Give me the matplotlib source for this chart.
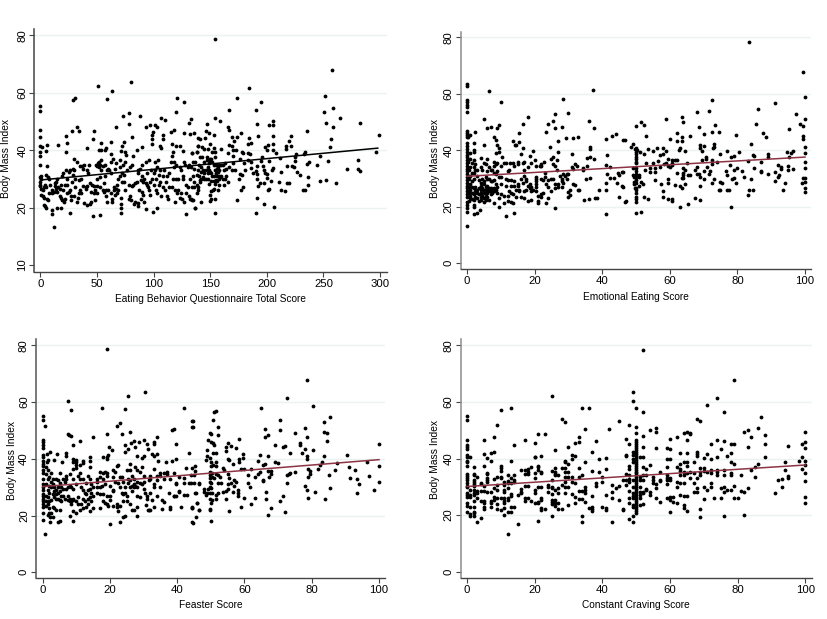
import matplotlib
matplotlib.use("Agg")
import matplotlib.pyplot as plt

plt.rcParams['font.family'] = ['Liberation Sans', 'DejaVu Sans']

# values: (score, body mass index)
total_points = [
    (0,55.4),(0,53.8),(0,47),(0,44.7),(0,41.5),(1.8,41),(6,41.7),(4.7,39.6),(0,39.2),(0,37.8),(0,34.8),(6,34.5),
    (16,41.8),(23,45),(24,42.4),(22.6,39.2),(28,46.5),(28.5,57.5),(30.6,58),(32,47.9),(34.4,46.6),(41.5,40.6),
    (47,46.8),(46.8,43.8),(50.6,62.5),(58.5,57.8),(63.2,60.7),(79.7,63.6),(66.8,48.1),(62,43),(54,42.6),(51.5,40.1),
    (53.5,39.9),(57,40),(58,40.9),(73.2,51.9),(78.2,53),(78.5,49),(81,44.5),(74,42.8),(72,41.3),(71.5,39.7),
    (74.7,39.4),(75.6,38.2),(81.5,37.8),(62,38.6),(85,40.2),(88,52),(90,41),(93,48),(96.5,48.7),(101,48.6),
    (103,48.2),(99.4,46.4),(99,45.4),(99,43.8),(98.5,42),(107,51.2),(110,50.5),(108,45.2),(108.5,43.8),(115.6,46.4),
    (118,47),(119.7,53.4),(120.6,58),(127,56.6),(131,49.4),(133.5,50.8),(127,45.8),(132.6,45.7),(136,46.1),(116,42),
    (119.7,41.3),(123.5,41.4),(125.6,39.7),(105.6,41.3),(107,40.7),(117.4,39.5),(116,38),(139.4,44.2),(139.4,41.6),
    (138,39.3),(134.4,39),(12.4,13.4),(10,19),(10.6,17.8),(14.7,20),(18.5,19.8),(26,18),(46.8,17),(53,17.5),
    (71,19.8),(71,18),(71,21.2),(93,19.5),(99.7,18.4),(103,20),(128.5,17.7),(136.5,19.9),(86.5,20.6),(86.5,21.5),
    (83.2,21.8),(92,22),
    (154.7,78.7),(257.4,67.9),(184.4,61.7),(251.8,58.9),(173.8,58),(194.7,56.9),(258.8,54.8),(190.3,54),(167,53.9),
    (250.3,53.2),(264.4,51.1),(282.4,49.6),(252.4,49.5),(154,51.2),(158.8,50.3),(147.4,49.1),(191.8,49.1),(205.3,50.3),
    (205.3,48.8),(201.8,48.8),(258.2,47.9),(165.9,47.9),(167,46.9),(235.3,46.6),(177.6,45.9),(146.5,46.8),(149,45.9),
    (153,45.4),(192.4,45),(205.3,45),(221,45),(298.8,45.2),(169,44.5),(174,44.5),(184.4,44.3),(141,43.8),(145.6,44.3),
    (219.7,43.3),(257,44),(171,43.3),(183.5,42.3),(186,42.6),(205.3,42.3),(150,42.2),(167,41.8),(169,41.4),(200.9,41.7),
    (198.5,41),(221,41.6),(217.4,41.3),(217,40.3),(256,41),(139,41.6),(143,41),(145,40.3),(148.4,40.5),(153,40.6),
    (160,40.5),(170.6,39.9),(173,40.1),(200.6,40),(205.3,39.9),(178.5,39.5),(183.5,39),(208,39),(234,39.2),(233,38.5),
    (226,38.7),(296.8,39.2),(247,38.1),(138,39.3),(134,39),(151.5,39.3),(154.4,39.5),(165.4,39),(170.6,38),(179,39),
    (185,38.5),(195.6,37.5),(211.8,37.2),(225,37.6),(176.5,36.8),(183.5,36.6),(186,35.7),(195,36.1),(202,36.1),
    (254,36.2),(281,36.4),(237,36),(235.9,35.1),(224.7,36.1),(170.6,35.5),(179.5,35.5),(161,35),(167,34.1),(169.6,33.2),
    (172,33),(181,33.2),(186,33.7),(191.8,34.5),(197,34.5),(205.3,33.9),(205,33.2),(217.6,34.5),(222,34.5),(224,34.2),
    (244,34.9),(271,33.6),(280.6,33.4),(282.4,32.9),(213,32.4),(227,32.5),(229,31.4),(188,31.9),(190.6,32.9),(191,31.8),
    (197.6,33.2),(198.8,32.2),(200.6,31.8),(176.5,31.8),(178,31.2),(175.6,30.1),(164,31),(163.5,30),(191,30),(200.6,30.2),
    (204,29.2),(236.2,30.6),(211,29),(252.6,29.7),(246.8,29.2),(261,28.5),(236.6,27.9),(218,28.4),(220,28.4),(197.5,28.4),
    (193.6,28.4),(192,27.4),(166,28.9),(161.8,27.9),(157.6,30),(156,29.3),(153.5,29.2),(150.6,29.2),(140.6,28.9),
    (148.8,28.2),(154.7,28.3),(157.6,27.7),(136,27.3),(139,27.3),(139,26),(138.2,25.2),(153.5,26.5),(152.4,26.2),(157,26.2),
    (179.4,27),(177.4,26.2),(200.9,26.2),(202.4,26.4),(213,26),(216,25.9),(232.4,26),(233.5,26.2),(150,24.4),(150.6,25.8),
    (154.4,23),(173.5,22.7),(191,23.3),(150,22.3),(150.6,22.9),(141.8,21.8),(133,23),(134.7,22.6),(197.6,21.2),(136.8,19.9),
    (206,20.1),(154.4,18),(190.3,18),
    (1,31),(1,30),(0,30.5),(0,29),(0,28),(0,27.5),(1,26.3),(2,26),(3,27),(4,28),(5,27),(5,31.5),(7,30.5),(8,30),(2,24),
    (3,23.5),(1,24.5),(3,21),(4,20.5),(5,20),(6,23),(7,22.7),(8,25),(9,28),(10,26),(10,25),(12,25.5),(13,28.5),(13,27.5),
    (14,29),(15,30),(14,26.5),(15,25.5),(16,27),(17,26.3),(17,24),(18,23.5),(19,22.5),(18,28),(19,31),(20,32),(21,22),
    (22,23),(20,26),(22,28),(23,33),(24,30),(24,28),(25,32.5),(26,33),(24,25),(25,25.5),(26,26),(27,24),(27,22.5),(28,29),
    (29,31.5),(29,33.5),(30,33),(30,37),(32,36),(31,30),(31,27),(30,24),(32,22),(33,23.5),(34,25),(35,26),(34,29.5),
    (35,34.5),(36,30),(36,25),(37,34.5),(38,33.5),(39,35),(38,27.5),(40,27),(40,26.5),(41,27.5),(41,33),(42,32),(43,35),
    (44,28.5),(45,25.5),(45,22),(44,21.3),(41,21),(39,21.5),(46,28),(47,27.5),(47,25),(48,26),(48,22.5),(49,35),(50,34.5),
    (50,27.5),(50,30),(50,25),(51,35.5),(52,36),(52,34),(53,35),(53,27),(53,30.5),(54,36.5),(54,33),(55,26.2),(55,34.5),
    (56,25.5),(56,28.5),(57,35),(57,31),(58,26),(58,24),(59,33),(59,21.8),(60,26),(60,33.5),(61,33),(62,36),(62,32),(62,25),
    (63,23),(63,22),(64,37),(65,27),(65,26),(66,24.5),(66,33.5),(67,26.5),(67,35.5),(68,25),(68,28),(69,30),(69,26),
    (70,36.5),(70,31),(70,34),(71,23.5),(72,32),(72,29),(73,35),(74,31.5),(74,29),(75,26),(75,36),(77,33),(78,28),(78,23),
    (79,34),(79,24),(80,22.5),(81,27.5),(81,35),(82,28),(83,21.3),(84,28.5),(85,29),(86,32),(86,33),(87,26),(88,33.5),
    (89,29.5),(89,23),(90,35),(90,31),(90,25.5),(91,29),(91,24.5),(92,30),(93,36),(93,28.5),(94,28),(94,32),(95,27),
    (96,36.5),(96,26),(97,24.5),(97,29),(98,33),(99,30),(100,32),(100,28),(101,33),(101,36),(102,30),(102,26),(103,34),
    (103,25),(104,36.5),(105,31.5),(105,28),(106,29),(106,33),(107,24),(108,27),(108,31),(109,33),(110,26),(111,29),
    (112,31),(112,24),(113,23),(114,32),(114,27),(115,36),(116,27),(117,30),(118,36),(118,34),(119,26),(119,22),(120,35),
    (120,30),(121,25),(122,30),(122,26),(123,34),(123,23.5),(124,25),(124,33),(125,23),(126,31),(126,30),(127,36),
    (127,21.8),(128,35),(129,28),(129,25),(130,34),(130,27),(131,35),(131,24),(132,30),(132,23),(133,34),(134,22.5),
    (134,27),(135,36),(135,31),(136,33.5),(136,29),(137,36),(138,31.5),(138,28),(139,33),(140,35),(140,31),(141,29.5),
    (141,37.5),(142,34),(142,32.5),(142,30),(143,37.5),(144,30.5),(144,33),(145,36),(145,32),(145,30),(146,33),(146,30),
    (147,36.5),(147,37.5),(148,34),(148,32),(148,30),(149,35.5),(149,33),(150,36.5),(150,32.5),(150,37),(151,32),(151,37),
    (152,36),(152,31),(153,35),(153,31),(154,33),(154,37.5),(155,35),(155,32),(155,29.5),(156,33.5),(156,31),(157,34),
    (157,32.5),(158,35),(158,33),(158,31),(159,30.5),(160,35),(160,31),(161,30),(162,33),(163,35.5),(164,33.5),
]

emotional_points = [
    (0,63.5),(0,62.6),(0,57.8),(0,57),(0,56),(0,55.2),(0,53.6),(0,46.8),(0,46.3),(0,45.4),(0,44.8),(0,42.5),(0,41.5),
    (0,40.5),(0,39.5),(0,38.5),(0,37.5),(0,36.5),(0,35.5),(0,34.5),(0,33.5),(0,32.5),(0,31.5),(0,30.5),(0,29.5),(0,28.5),
    (0,27.5),(0,26.5),(0,25.5),(0,24.5),(0,23.5),(0,21.8),(0,20.6),(0,19.5),(0,18),(0,13.3),
    (6.6,60.9),(10,57.2),(5.1,51.2),(6,48),(7,48.1),(9,48),(9.6,48.8),(2.5,46.4),(0.8,45.4),(0.4,44.6),(8,44.6),(8.5,43.7),
    (9,41.9),(5,41.8),(2,42.7),(2.2,40.1),(2,39.5),(1,39.2),(9.5,40.7),(9.5,39.5),(8.6,39),(10.5,37.6),(13.6,43.4),
    (14.2,41.8),(14.6,41.8),(15.4,42.8),(15.5,46.3),(16.5,49.2),(18,51.7),(16.5,40.9),(16,38.7),(18.5,38),(19.5,39.6),
    (20,36.6),(23.5,46.6),(24,49.4),(25.5,50.5),(26,52.7),(26,47.8),(28,48.4),(28.4,58),(30,53.1),(29.4,44.2),(31.4,44.4),
    (32.8,44.8),(27,43.4),(24.5,41.2),(27,39.3),(31,38.8),(25.5,37.6),(25,36.8),(26.5,36.6),(22.8,36),(22,35.2),(21.5,34.5),
    (20.5,34.5),(19,35.6),(17,36),(15.2,36),(13.7,35.4),(12.7,35.6),(11.5,35.6),(36,50.4),(37.4,61.5),(37.5,47.8),(36.5,41.3),
    (36.4,40.6),(35.6,37.2),(36.3,37.5),(37.5,36.8),(35.5,34.6),(34.4,33.6),(41,44.1),(43,45.2),(44.2,45.7),(46.3,43.7),
    (41.5,38.5),(41,34.7),(42.4,34.1),(41.5,31.6),(42.4,30.3),(43.5,30.1),(44.6,31.9),(45,31.3),(45.8,32.2),(44.5,28.3),
    (45.8,27.3),(41,28.6),(41,26),(39,26),(38,23),(38.5,23),(45,23.4),(46.6,21.8),(41,17.6),(34.7,22.3),(36,22.6),(35.3,29.7),
    (36.5,30.3),(34.4,33),(32.8,26),(32,27.7),(30.6,26),(30,25.4),(30.4,24.2),(30,23.6),(26,19.7),(14,17.9),(11.5,16.9),
    (3.8,19),(2,17.5),(3,17.7),
    (83.5,78.5),(99.5,67.6),(91,56.6),(100,58.8),(72.5,57.8),(68,53.7),(71.5,53.8),(86,54.6),(97.4,53),(100,51),(59,51.1),
    (63.5,51.7),(64,50.1),(50,48.6),(51.5,50),(52.5,48.9),(46.6,43.7),(68.5,48.4),(73.5,48.9),(85.5,49.3),(95.4,47.7),
    (98.4,49.4),(99.4,48.6),(62,46.3),(70,45.9),(72.5,46.5),(74.6,46.4),(79.5,45.5),(87.5,46),(88.5,44.8),(53,45),(60,44.1),
    (62,43.2),(63.5,44.8),(63.5,43.3),(66,45),(99.4,45.1),(99.4,43.9),(69,41.8),(70,41.5),(73,42.2),(73,41),(84,42.2),
    (100,41.3),(49,42.2),(48.5,41.3),(49.8,40.6),(50.2,40.1),(51.2,39.5),(52.5,38.8),(53.6,40.6),(55,39.9),(56.2,40.8),
    (58,40.9),(57,38.3),(58,38.7),(59,39.6),(63,40.8),(62.6,40.1),(64.5,39.9),(69,40.9),(69.5,39.8),(72.8,40.7),(77,39.8),
    (75,38.7),(79,38.1),(78,37.8),(80.5,39.4),(84.5,38.5),(85,38.1),(89,38.6),(89,37.6),(94.6,39.3),(96,38.9),(96.5,39.9),
    (95.4,37.6),(100,39),(100,36),(100,33.6),(70.6,37.5),(70.6,36.9),(69.5,36.5),(72.4,36.5),(72.5,35.2),(74,35.7),(77.8,34.9),
    (83,36.1),(87,35.8),(92,34.7),(93,34.1),(93,33.4),(95,34.5),(95,33),(96.5,33.4),(85,33.8),(87,32.7),(87,32.2),(89,31.7),
    (91,32.3),(92.4,31.3),(92,30.7),(80,33.6),(79,33),(81.4,32.7),(76.5,32.6),(77,31.3),(79,30.1),(78.5,30),(82,30.4),(84,29.7),
    (79.5,28.3),(75,28.9),(75.5,28.3),(91,29),(94,28.3),(99,28.3),(99.5,30.1),(100,30.2),(100,28.9),(100,26.6),(100,25.3),
    (93.5,26),(83.5,25.8),(84.5,25.8),(83,24.2),(77,26.1),(77.5,26.1),(74.6,26.1),(75,25.8),(69,27.2),(67.6,23.2),(69,22.4),
    (65.5,21.1),(63,20),(78,19.8),(60.6,22.9),(60.6,22),(59.5,22.8),(58,25.6),(58,23.5),(57.5,28),(59.6,30),(59.6,28.5),
    (61.4,27.7),(63,27.2),(63.5,26.7),(64.5,28.1),(65.5,31.1),(66,31.3),(64,33.6),(64.5,33),(64,31.9),(64,31.3),(63.6,30.1),
    (64,30.1),(62,31.9),(65,35.6),(68,34.2),(67.6,32.9),(68,31.5),(68.5,31.5),(69,30.7),(70,32.8),(70,30),(71,34.2),(72,32.8),
    (71.6,31.6),(72.5,28.3),(73,29.9),
    (50,40.7),(50,39.5),(50,38.6),(50,37.8),(50,36.8),(50,36),(50,35.4),(50,33.6),(50,32.8),(50,31.6),(50,30.7),(50,29.5),
    (50,28.3),(50,26.5),(50,26),(50,24.8),(50,23.6),(50,22.8),(50,21.8),(50,17.9),(51.5,18.3),(47,22),(52.5,23.6),(53.6,22.6),
    (49,33.6),(49,31.3),(49.4,30.7),(51,31.3),(51,30.7),(49.4,28.9),(49.4,28.1),(49.6,26.5),(51.5,28.7),(52,28),(51,27.5),
    (46.2,32.2),(46.2,27.1),(52.6,33),(53,35.4),(54,33.6),(54,32.3),(55,35.6),(55.6,33.7),(55.6,32.3),(56.5,36.2),(57,34.2),
    (55.5,29.4),(58.4,35.2),(59,35.6),(59.6,36.8),(60.6,36.6),(61.6,36.6),(62,36.6),(59.6,34.6),(60,34.2),(60.6,34.7),(60.6,35.6),
    (0.3,36),(0.5,33),(0.5,30),(0.5,27),(0.5,25),(0.7,22),(1,37),(1,34),(1,31),(1,28),(1,26),(1,24),(1,23),(1.5,35.5),(1.5,32),
    (1.5,29),(1.5,27),(1.5,25),(1.5,22.8),(2,36.5),(2,34),(2,32),(2,30),(2,26.5),(2,24.5),(2,22.5),(2,20.5),(2,20),(2.5,35),
    (2.5,33),(2.5,27),(2.5,25.5),(2.5,23.5),(3,33),(3,31),(3,26),(3,25),(3,23),(3.5,29.5),(3.5,26.5),(3.5,24.5),(3.5,22),
    (4,37.2),(4,34),(4,28.5),(4,27.5),(4,26),(4,25),(4,23.5),(4,22.5),(4.5,33),(4.5,30),(4.5,26.5),(4.5,24),(5,35.5),(5,29),
    (5,28),(5,26),(5,25),(5,23),(5,21.7),(5.5,35),(5.5,30.5),(5.5,27),(5.5,25.5),(5.5,24),(5.5,22.5),(6,37),(6,32.5),(6,29.8),
    (6,27.5),(6,26),(6,25),(6,23.5),(6.5,34),(6.5,30),(6.5,26.5),(6.5,25.5),(6.5,22.5),(7,33),(7,29),(7,26.5),(7,25.5),(7,24.5),
    (7.5,33),(7.5,29),(7.5,26),(7.5,25),(8,36),(8,34.5),(8,32),(8,29.5),(8,26.5),(8,25.5),(8,21.5),(8.5,35),(8.5,31.5),(8.5,28),
    (8.5,26),(9,35.5),(9,32.5),(9,27),(9,25),(9.5,30.5),(9.5,23),(9.5,19.8),(10,34.3),(10,30.5),(10,28),(10,24.5),(11,35.6),
    (11,24),(11,21.5),(11.5,30),(11.5,27.5),(12,32.5),(12,29.5),(12,24),(12,22),(12.5,25.5),(12.5,33),(13,29.5),(13,27.5),(13,25),
    (13,21.8),(13.5,24.5),(13.5,21.3),(14,34.5),(14,29),(14,27.5),(14.5,23.5),(14.5,26),(15,27.5),(15,28),(15,35),(15.5,26),
    (15.5,25.5),(16,30),(16,23.5),(16.5,35.5),(16.5,28.5),(17,33),(17,31),(17,25.5),(17,23),(17.5,30),(17.5,29),(17.5,26),(18,34),
    (18,27.5),(18,22),(18.5,26.5),(18.5,28),(19,27),(19,25.5),(19,22.5),(19.5,26),(20.5,30.5),(20.5,30),(20.5,29),(20.5,28),
    (20.5,27),(20.5,25.5),(21,24),(21,22),(21,21.5),(22,34.5),(22,30),(22,24.5),(22,23.3),(22.5,29.5),(22.5,25),(23,32),(23,30.5),
    (23.5,28),(23.5,21.5),(24,29.5),(24,27),(24,23),(25,30),(25,25.5),(25.5,35),(25.5,30),(26,34.5),(26,28),(26,26.5),(26.5,33),
    (27,28),(27,27),(27.5,31),(28,30),(28,29),(28,27),(28.5,31.5),(28.5,28.5),(29,31),(29.5,30),(29.5,31.5),(30,31.5),(31,34),
    (31.5,33.5),(32,35),(32.5,34.5),(31.5,28),(33,26),
]

feaster_points = [
    (19,78.6),(7.6,60.5),(8.5,57.2),(17.5,57.8),(24.6,57.7),(25.5,62.3),(30.5,63.4),(0,55.2),(0,53.6),(0.7,51.7),(22,51.7),
    (23,52.7),(7.6,48.7),(7.8,48.3),(8.5,48),(19,48.6),(23.6,48.6),(26,49.4),(15,47.7),(11,46.4),(0,46.6),(0,46),(0,44.7),(0,43.7),
    (9,44.9),(19.6,44.3),(20.6,43),(24.6,44.9),(25.5,43.6),(24.6,42.5),(26.4,45.5),(27,46.4),(27.5,44),(28.5,45.9),(30,46.5),
    (31,45.2),(31.4,43.6),(33,45.8),(33,45.2),(34,47.6),(32.5,41.7),(33,41),(34,41.7),(28,41.1),(30,41),(29.6,40.3),(2.2,42.5),
    (1.3,41.7),(0,41.2),(0,40.6),(0,39.2),(0,37.5),(0,34.9),(4.2,41.7),(7,42.2),(7,41),(1.7,39.6),(1.2,38.9),(3.5,39.6),(5.6,39),
    (9,39.8),(10,39.6),(9,39),(10,39),(14,40.7),(14,39.2),(12,39.3),(11,37.8),(10,37.8),(10,36.6),(9,36.3),(18,40.8),(19.2,40.8),
    (19.5,41.3),(19,39.8),(22.5,37.8),(26,38),(34.4,39.3),(36.8,39),(38.5,39.3),(39.5,40.1),(39.5,45.1),(38.5,50.2),(39,50.4),
    (42,57.9),(44.5,53.3),(44.5,51.1),(43.5,42.2),(42.5,36.9),(44.5,36.6),(45.4,37.6),(45.4,35.8),(40.5,33.7),(42,33.1),(44,34.4),
    (45,34.4),(39.5,31.6),(42,31.4),(43.5,31.4),(45,31.4),(46.4,31),(40.5,28.4),(42,27.2),(43,27.2),(45.4,28),(37.5,27.8),(39.5,27),
    (39,26.9),(46,24.3),(46.4,22),(44.5,22.8),(44.5,22.5),(41,23.1),(38,23.1),(38,22.2),(35.5,25.5),(36,24.9),(35.5,22.3),(33,23.1),
    (31.4,22),(32,22),(30.6,23.7),(44.5,17.6),(0.6,13.4),(20,17),(0,18.4),(2.2,17.6),(2.2,19.6),(2.6,20.8),(1.7,20.2),(3.2,19.6),
    (4.6,17.7),(5.1,18),(9,18),(8,19.7),(23,17.8),(24,19.4),(24.6,19.8),(28,19.8),
    (78.5,67.7),(72.6,61.4),(80.5,58.7),(65,57.9),(51.6,56.9),(51,56.4),(44.7,53.3),(50.6,53.8),(44.7,51.1),(52,51.1),(70.6,53.7),
    (85.5,54.6),(83.5,53.1),(66,50.5),(70.5,50),(78,50.9),(83.6,49.6),(84.6,49.2),(75,49),(49.6,49.2),(50,48.6),(52,48.5),(67,48.5),
    (66,47.6),(78.5,47.7),(84.6,46.4),(58.5,47),(49.1,46.6),(50,46),(50.6,45.5),(51,45),(55,45.7),(76.5,45.5),(76.5,44.9),(69,44.9),
    (71.6,44.3),(72,44.4),(56,44.4),(57.5,43.9),(54.6,44.3),(54.6,42.6),(78,43.6),(80.5,43.2),(100,45.1),(49,43.1),(50.6,42.2),
    (51.6,41.9),(73.6,42.2),(77,41.9),(64.6,41.3),(67,40.9),(78.5,41),(78.5,39.8),(83.5,40.9),(90.5,41.3),(59.5,41.7),(59.5,40.3),
    (58.5,39.8),(58.5,38.8),(55,39.8),(55.5,39.6),(56.5,38),(49,41),(48.6,39.6),(49.6,40.4),(50,38.8),(50.6,37.8),(51.6,38.8),
    (50,37.5),(51.6,37.5),(64,39.1),(65.6,37.8),(66,38),(69,38.8),(70,38.4),(83,38.9),(82.5,37.9),(87.5,38.6),(96.5,39),(100,37.6),
    (91,37.1),(93,36.1),(87,36.2),(82,36.3),(79.5,35.7),(79.5,34.8),(75,35.2),(73.6,35.1),(73.3,34.6),(72.6,34.3),(79,36.3),(79,33.5),
    (85,34.3),(91.5,33.4),(93.5,32.9),(94,31.1),(97,33.8),(100,32),(98.4,29),(93.5,27.8),(85.5,29.6),(84,25.8),(79,26.1),(81,28.4),
    (78,30.4),(78.5,29),(72.6,31.6),(71.6,26.9),(70.5,25.1),(72,21.1),(68,22.5),(67,20.1),(66.5,28.3),(66.5,25.8),(63,26.3),(62,24.2),
    (60,26.3),(59,23.1),(55.5,21.6),(54.6,26),(61,34.3),(61,31.3),(61.5,30.1),(63,33.5),(64,34.6),(64.6,35.5),(60,36.4),(59,36.3),
    (62,36.4),(65.4,32.5),(65.6,32.3),(67,35.8),(68,35.6),(68,34.6),(67.4,33.7),(57,32.5),(57.5,32),(56,31.6),(55,31),(57,30.4),
    (55.5,33.4),(55,34.5),(54,36),(53.5,36.9),(58,29),(58,27.8),(58,27),(56.5,28.4),(55,29.2),(54.6,28.8),(53.5,28.4),(52,28),
    (53,31.4),(52,31.4),(52.6,33.5),(52,34.3),(51.6,34.8),
    (49.8,35.5),(50.3,34.9),(49.8,34.3),(50.3,33.7),(49.8,33.1),(50.8,33.1),(49.6,32),(50,31.4),(49.6,30.2),(50,29.6),(49.3,29.2),
    (48.1,29.2),(48.1,28.4),(48.6,27.2),(49,27.8),(49.8,27.8),(50.3,27.8),(51.6,27.2),(51.6,26),(49.8,26),(50.3,25.5),(50,24.3),
    (49.8,22.2),(49.6,22),(50,18),(44.2,31.4),(46.6,31.4),(45.6,27.8),(44.4,23),(46,24.3),(46.6,22),(45.6,19.6),(44.7,17.5),
    (0,38),(0,36),(0,33),(0,31),(0,30),(0,29),(0,27.5),(0,27),(0,26),(0,25),(0,24),(0,23),(0,21),(1,37),(1,34.5),(1,31),(1,27),(1,25),
    (1,23.5),(1.5,36),(1.5,33),(1.5,29),(1.5,26.5),(1.5,24),(2,33.5),(2,30.5),(2,28),(2,25),(2,22.5),(2,21),(2.5,35),(2.5,32),(2.5,30),
    (2.5,25.5),(3,33),(3,31),(3,27.5),(3,23),(3.5,30),(3.5,28.5),(3.5,26.5),(3.5,22.5),(4,33),(4,29),(4,27.5),(4,26),(4,22),(4.5,32.5),
    (4.5,30),(4.5,28),(4.5,26),(5,35),(5,31.5),(5,28.5),(5,25.5),(5,21.8),(5.5,30),(5.5,27),(5.5,25),(6,33),(6,29.5),(6,27),(6.5,32),
    (6.5,26),(7,34),(7,29.5),(7,33),(7.5,30),(7.5,26.8),(7.5,25.5),(8,34.5),(8,30.5),(8,26),(8,25),(8.5,30),(8.5,25),(8.5,24),(9,33),
    (9,29.5),(9,26),(9,25.5),(9,21.5),(10,31),(10,25),(10,20.8),(10.5,34),(10.5,26.5),(10.5,24),(11,35),(11,33),(11,21.8),(11.5,30),
    (11.5,24),(12,38.5),(12,33),(12,29),(12,26),(12,22.5),(12.5,28),(12.5,25),(13,31.5),(13,27.5),(13,23),(13.5,34),(13.5,29),(13.5,26),
    (13.5,24),(14,37),(14,33),(14,29.5),(14,26.5),(14,21.5),(14.5,31),(14.5,28),(14.5,25),(15,30),(15,27),(15,22.5),(16,32),(16,30),
    (16,28),(16,33),(17,35.5),(17,33.5),(17,30),(17,27.5),(17,22.5),(17.5,30.5),(18,35),(18,33),(18,27.5),(18,25),(18.5,35.5),(18.5,31),
    (18.5,24.5),(19,35),(19,34),(19,27),(19,24),(19.5,23.5),(20,30.5),(20,27),(20,25.5),(21,36),(21,33.5),(21,29),(21,28.5),(21,23.5),
    (21.5,35.5),(21.5,32),(22,37.5),(22,24),(22,23),(22.5,31.5),(22.5,21.5),(23,33.5),(23,30),(23,23.5),(23.5,33.5),(23.5,28),(24,32),
    (24,27.5),(24,25),(24.5,30),(24.5,28),(25,36),(25,27),(25,25),(25.5,31.5),(25.5,33),(26,36),(26,32.5),(26,30),(26,24),(26.5,34),
    (26.5,30.5),(26.5,28.5),(26.5,22),(27,33),(27,31),(27,30),(27,22),(27.5,37),(27.5,30.5),(28,36),(28,32),(28,30),(28,27),(28,23),
    (29,35.5),(29,31.5),(29,26.5),(29.5,37),(29.5,31),(30,34),(30,32),(30,29.5),(30.5,28),(31,27),(31,26),(31.5,22),(31.5,32.5),(32,34),
    (32,33),(32,28),(32.5,25.5),(33,36.5),(33,31),(33,30),(34,34),(34,32.5),(34,27),(35,35),(35,34),(35,30),(36,35),(36,33),(37,34.5),
    (37,35.5),(38,33),(39,35),(39,27),(39.5,31),(40.5,28.5),
]

craving_points = [
    (0,55.1),(0,53.5),(0,46.7),(0,44.8),(0,44.1),(0,43.5),(0,41.3),(0,40.7),(0,39.2),(0,38.6),(0,37.4),(0,34.5),(0,33.9),(0,33.2),
    (0,32.4),(0,31.4),(0,30.2),(0,29.8),(0,27.7),(0,27.1),(0,26.5),(0,24.4),(0,23.3),(0,21.2),(1,40.7),(1,29),(1,27),(1,26.5),(1,23),
    (1,19.8),(1,20.3),(2,37),(2,34.4),(2,34),(2,32.4),(2,31.8),(2,30.9),(2,30.3),(2,29),(2,27.7),(2,27),(2,25.1),(2,23),(2,21.2),
    (2,20.6),(2,19.8),(3,33.6),(3,26),(3,28.4),(3,27.7),(3,17.7),(4,31.5),(4,30.9),(4,28.4),(4,25.1),(4,19),(5,46.4),(5,41.6),(5,37.4),
    (5,30.4),(5,28.4),(5,25.1),(5,24.2),(5,23),(5,22.2),(6,40.3),(6,35),(6,34.4),(6,33.2),(6,32.4),(6,31.8),(6,28),(7,41.8),(7,39.1),
    (7,28),(7,25.1),(7,24.4),(7,23),(8,47.7),(8,42.2),(8,32.8),(8,29.5),(8,26.5),(8,25.3),(9,51.8),(9,33.6),(9,30.6),(9,29),(9,26),
    (9,23.8),(9,22.2),(10,57.2),(10,37.4),(10,36.5),(10,35.7),(10,33.6),(10,33),(10,26.2),(10,21.8),(11,31.8),(11,30.6),(11,28.9),(11,28),
    (11,25.9),(11,25.1),(11,24.2),(11,22.4),(11,20),(12,13.2),(12,34.2),(12,32),(12,31.2),(12,29.5),(12,26.2),(12,25.3),(12,21),(13,57.7),
    (13,39.1),(13,33.2),(13,31.2),(13,27.3),(13,26.9),(13,23),(13,21.2),(14,44.9),(14,34),(14,32.4),(14,31.6),(14,23),(15,16.9),(15,27.1),
    (16,35.8),(16,29.2),(16,28.3),(16,27.7),(17,46.4),(17,36),(17,34.5),(17,30.3),(17,26.2),(17,25.1),(18,36.3),(18,35.4),(18,34.5),(18,30.3),
    (18,26.2),(19,37),(19,25.1),(20,45.6),(20,40.7),(20,40.4),(20,34.8),(20,33.1),(20,29),(20,27.9),(20,24.2),(21,48.6),(21,37.5),(21,36.9),
    (21,36),(21,30),(21,24.8),(21,24.3),(21,18),(22,40.9),(22,35.4),(22,34.8),(22,30),(22,25.9),(22,25.3),(22,22.6),(22,21.8),(23,48.7),(23,22.2),
    (24,30.6),(24,30),(24,28.3),(25,62.2),(25,35.7),(25,32.3),(25,30),(25,29.5),(25,27.3),(25,25.3),(25,24.5),(25,23.8),(25,19.7),(26,43),(26,36.5),
    (26,35.4),(26,34.5),(26,34),(26,29),(26,25.3),(26,24.2),(26,23.3),(27,34),(27,29.5),(27,27.7),(27,24.2),(27,22),(28,53.9),(28,36.5),(28,30.6),
    (28,22),(29,52.8),(29,39.2),(29,38.6),(29,36.5),(29,35.4),(29,33.6),(29,31.6),(29,30),(29,27.7),(30,44.2),(30,38),(30,35.4),(30,33.5),(30,29.8),
    (30,23.6),(31,41.3),(31,39.9),(31,33.6),(31,31.8),(31,27.5),(32,45.6),(32,40.9),(32,31.5),(32,26.5),(32,24.2),(33,47.7),(33,45.8),(33,36.5),
    (33,33.6),(33,28.6),(33,25.6),(34,57.7),(34,34),(34,28.5),(34,25.6),(34,19.8),(34,17.7),(35,50.3),(35,38.8),(35,29.8),(35,28.9),(35,27.7),
    (35,24.5),(36,58),(36,22.6),(37,42.2),(37,35.5),(37,26.9),(37,23),(37,22.2),(37,21.5),(38,46.2),(38,31.2),(38,30.4),(39,39.7),(39,35.1),(40,33.4),
    (40,31.6),(40,23),(41,40.3),(41,36.2),(41,27.1),(41,22.4),(41,21.8),(42,50.6),(43,30.6),(43,28),(43,26.2),(43,17.6),(44,29.5),(45,53.3),(45,30.4),
    (45,25.3),(46,32.4),(46,22.2),(46,21.8),
    (52,78.5),(49,63.4),(49,60.4),(50,57.8),(52,56.6),(71,58.8),(74,61.5),(79,67.6),(76,56.6),(68,54.1),(69,53.4),(87,54.7),(48,51.7),(50,51.3),(50,49),
    (54,50),(56,50.7),(56,49.2),(64,49),(65,49.3),(66,49),(66,48.7),(65,46.6),(62,47.7),(60,46.9),(52,48),(47,46.9),(48,45),(82,49.3),(83,50.1),(84,47.7),
    (86,50.9),(88,48.2),(88,45),(74,46.4),(72,45.3),(76,46.2),(78,45.3),(79,45),(83,44.1),(95,44.3),(99,45.1),(100,45.7),(100,43.8),(100,49.5),(56,43.6),
    (59,43.6),(60,43.2),(75,43.2),(68,42.4),(68,41.5),(68,40.9),(63,41.9),(65,41.9),(71,41.6),(70,40.2),(72,39.7),(74,40.6),(77,40.8),(78,42),(88,40.5),
    (99,40.7),(98,39.2),(100,39),(100,37.6),(94,38.9),(94,36.1),(86,38.2),(78,38.7),(79,38.1),(85,37.1),(84,36.1),(99,36.3),(100,34.7),(100,32),(85,33.6),
    (81,34),(79,30.4),(83,29.7),(81,28.4),(82,28.2),(79,26),(80,25.9),(91,27.8),(92,32.3),(93,32.8),(93,29.8),(95,33.9),(95,33.2),(100,26.5),(100,24.3),
    (82,20.2),(76,19.7),(69,19.2),(69,22.1),(65,21.3),(64,23.4),(64,22.6),(60,21),(65,26.9),(62,24.2),(61,24.8),(60,26.4),(60,25.3),(61,26.4),(59,26),(56,26),
    (57,24.8),(54,28),(54,27.2),(53,29.2),(55,33.4),(55,32.5),(55,31.5),(56,30.9),(56,29.4),(57,35.1),(57,32.4),(57,32),(59,34),(59,33.1),(59,32.3),(59,31.1),
    (60,33.1),(60,32.3),(59,37),(59,39.7),(60,39.7),(62,37),(63,37.9),(64,38.7),(65,38.9),(65,37.5),(63,36.3),(63,35.5),(63,34),(64,34),(64,35.4),(62,31.8),
    (62,30),(63,31.2),(64,31.4),(63,27.1),(64,26.9),(65,34.9),(66,35.1),(67,38.7),(67,34.7),(66,33.2),(67,31.2),(68,33.1),(68,29.7),(68,28.2),(67,28),(69,36.6),
    (70,36.6),(69,34),(69,35.1),(70,35.5),(70,30.1),(70,25.7),(71,35.3),(72,35.8),(72,34.7),(72,31.5),(72,30.1),(71,28.9),(73,26),(74,36),(74,35.3),(74,34),
    (75,29.5),(75,26),(76,36),(76,34),(76,30.1),(76,28.3),(77,28.9),(78,28.9),(78,34.9),(78,34.3),
    (50,46.6),(50,45.9),(50,45.2),(50,44.5),(50,43.8),(50,43.1),(50,42.4),(50,41.7),(50,41),(50,40.3),(50,39.6),(50,38.9),(50,38.2),(50,37.5),(50,36.8),(50,36.1),
    (50,35.4),(50,34.7),(50,34),(50,33.3),(50,32.6),(50,31.9),(50,31.2),(50,30.5),(50,29.8),(50,29.1),(50,28.4),(50,27.7),(50,27),(50,26.3),(50,25.6),(50,24.9),
    (50,24.2),(50,23.5),(50,22.8),(50,22.1),(50,21.4),(50,20.6),
    (48,37.5),(48,36.3),(48,34),(48,32.8),(48,31.6),(48,28.4),(48,26),(48,24.2),(48,18.5),(49,42.4),(49,41.3),(49,39.9),(49,38.7),(49,32.4),(49,30),(49,27.7),
    (49,26.9),(49,26),(49,23.6),(49,23),(49,19.8),(49,17.4),(51,40.7),(51,33.6),(51,32.4),(51,30),(51,28.3),(51,27.1),(51,26),(51,23.6),(52,44),(52,40.7),(52,37.1),
    (52,34.2),(52,32.4),(52,28.3),(52,27.7),(52,23.8),(53,36.3),(53,34.2),(53,29),(47,41.2),(47,41),(47,34.4),(47,32.4),(47,30.5),(54,37.7),
]

# ends of the fitted lines
total_fit_x, total_fit_y = [0, 298], [29.6, 40.7]
emotional_fit_x, emotional_fit_y = [0, 100], [30.8, 37.6]
feaster_fit_x, feaster_fit_y = [0, 100], [30.2, 39.7]
craving_fit_x, craving_fit_y = [0, 100], [30.1, 37.7]

y_ticks = [0, 20, 40, 60, 80]
total_x_ticks = [0, 50, 100, 150, 200, 250, 300]
score_x_ticks = [0, 20, 40, 60, 80, 100]

W, H = 828, 619
panels = [
    # box in pixels (l, r, t, b), px position of x=0/x-max tick and y=0/y=80 tick, label centres
    dict(points=total_points, fit=(total_fit_x, total_fit_y), xticks=total_x_ticks,
         xlabel='Eating Behavior Questionnaire Total Score', ylabels=['10', '20', '40', '60', '80'],
         box=(34.3, 386.7, 29, 271.7), xref=(40.3, 380, 300), yref=(265, 35.3),
         xlab=(210.5, 298.5), ylab=(6.5, 158), color='black', left='#444444'),
    dict(points=emotional_points, fit=(emotional_fit_x, emotional_fit_y), xticks=score_x_ticks,
         xlabel='Emotional Eating Score', ylabels=['0', '20', '40', '60', '80'],
         box=(460.7, 811, 31.7, 269.3), xref=(467, 805, 100), yref=(263.3, 37.3),
         xlab=(636, 296.5), ylab=(435, 158), color='#8c3444', left='#8c8c8c'),
    dict(points=feaster_points, fit=(feaster_fit_x, feaster_fit_y), xticks=score_x_ticks,
         xlabel='Feaster Score', ylabels=['0', '20', '40', '60', '80'],
         box=(36, 385, 339, 578.3), xref=(42.7, 379, 100), yref=(572.3, 345.3),
         xlab=(211, 605.5), ylab=(12, 460), color='#8c3444', left='#555555'),
    dict(points=craving_points, fit=(craving_fit_x, craving_fit_y), xticks=score_x_ticks,
         xlabel='Constant Craving Score', ylabels=['0', '20', '40', '60', '80'],
         box=(460.7, 811.7, 339, 578), xref=(467, 805.3, 100), yref=(571.7, 345.3),
         xlab=(635.5, 604.5), ylab=(435, 459.5), color='#8c3444', left='#8c8c8c'),
]

fig = plt.figure(figsize=(W / 100, H / 100), dpi=100, facecolor='white')

for p in panels:
    l, r, t, b = p['box']
    ax = fig.add_axes([l / W, 1 - b / H, (r - l) / W, (b - t) / H])

    # axis limits come from where the ticks sit in the picture
    x0, x1, xmax = p['xref']
    y0, y80 = p['yref']
    ax.set_xlim((l - x0) * xmax / (x1 - x0), (r - x0) * xmax / (x1 - x0))
    ax.set_ylim((y0 - b) * 80 / (y0 - y80), (y0 - t) * 80 / (y0 - y80))

    ax.hlines([20, 40, 60, 80], *ax.get_xlim(), colors='#eaf2f3', linewidth=1.0, zorder=1)

    xs = [a for a, _ in p['points']]
    ys = [c for _, c in p['points']]
    ax.scatter(xs, ys, s=7.5, c='black', linewidths=0, zorder=3)
    ax.plot(p['fit'][0], p['fit'][1], color=p['color'], linewidth=1.1, zorder=4)

    ax.set_xticks(p['xticks'])
    ax.set_yticks(y_ticks)
    ax.set_yticklabels(p['ylabels'], rotation=90, va='center')
    ax.tick_params(axis='both', length=3.6, width=0.8, color='#444444', labelsize=8.2, pad=1.5)

    ax.spines['top'].set_visible(False)
    ax.spines['right'].set_visible(False)
    ax.spines['left'].set_color(p['left'])
    ax.spines['left'].set_linewidth(1.1)
    ax.spines['bottom'].set_color('#444444')
    ax.spines['bottom'].set_linewidth(1.0)

    ax.set_xlabel(p['xlabel'], fontsize=7.3, va='center')
    ax.set_ylabel('Body Mass Index', fontsize=7.4, va='center')
    ax.xaxis.set_label_coords((p['xlab'][0] - l) / (r - l), (b - p['xlab'][1]) / (b - t))
    ax.yaxis.set_label_coords((p['ylab'][0] - l) / (r - l), (b - p['ylab'][1]) / (b - t))

fig.savefig('out.png', dpi=100)
